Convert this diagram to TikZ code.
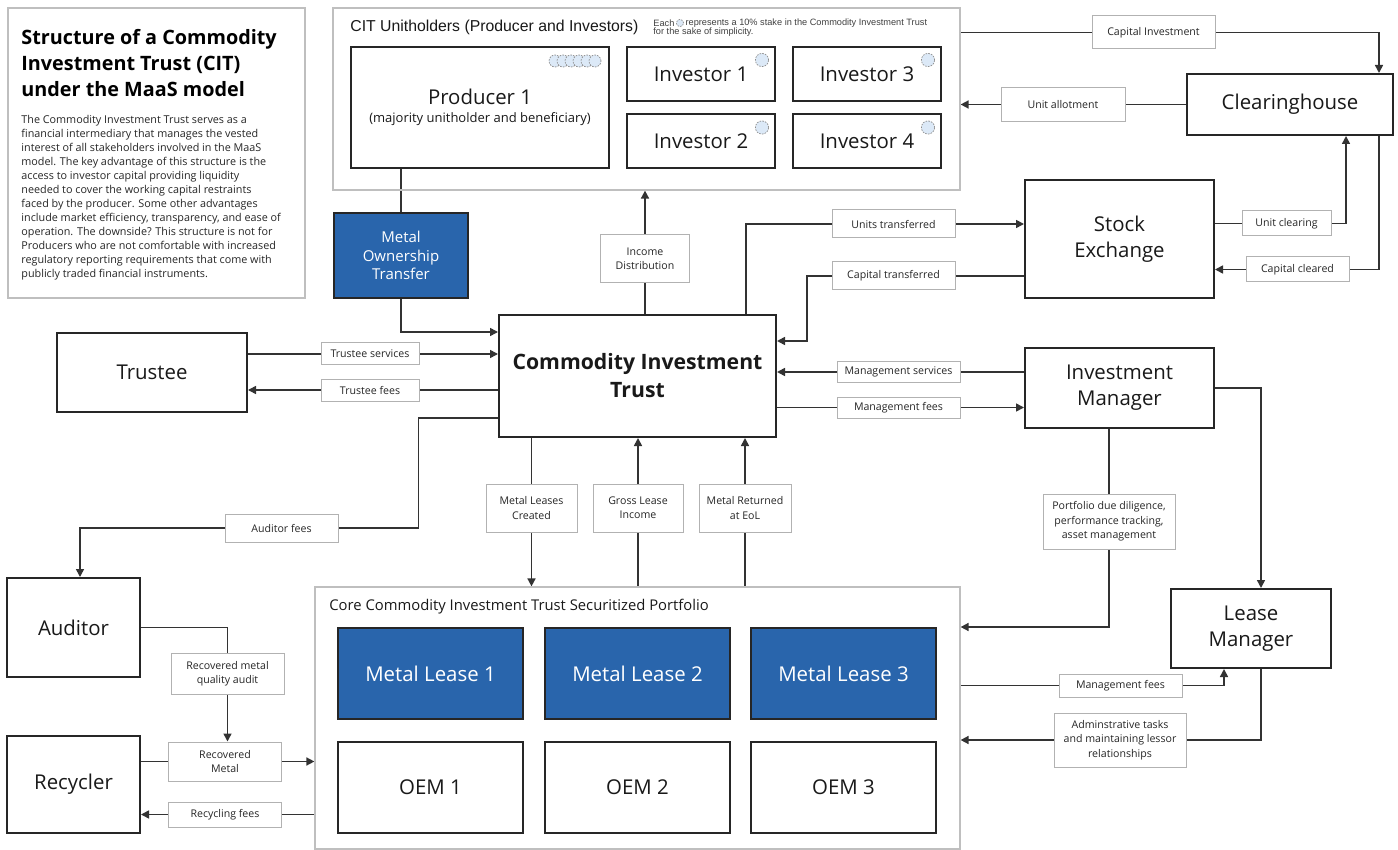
\documentclass[tikz,border=0pt]{standalone}
\usepackage{fontspec}
\setmainfont{Open Sans}
\newfontfamily\arialfont{Liberation Sans}
\usetikzlibrary{arrows.meta,backgrounds}

\definecolor{mblue}{RGB}{41,101,172}
\definecolor{stakeblue}{RGB}{220,233,247}

\begin{document}
\begin{tikzpicture}[
  x=0.5pt, y=-0.5pt,
  box/.style={draw=black!85, line width=1pt, fill=white, text=black!90, align=center,
    inner sep=0pt, font=\fontsize{10.2}{13}\selectfont},
  bluebox/.style={box, fill=mblue, text=white},
  panel/.style={draw=black!25, line width=0.6pt, inner sep=0pt},
  lbl/.style={draw=black!30, line width=0.5pt, fill=white, text=black!85, align=center,
    inner sep=0pt, font=\fontsize{5.3}{7.2}\selectfont},
  note/.style={inner sep=0pt, text=black!75, font=\arialfont\fontsize{4.6}{5}\selectfont},
  arr/.style={draw=black!80, line width=0.8pt, -{Triangle[length=4pt,width=4pt]}},
  link/.style={draw=black!80, line width=0.8pt},
  stake/.style={draw=black!45, dash pattern=on 0.8pt off 0.6pt, line width=0.35pt, fill=stakeblue}
]
  \useasboundingbox (0,0) rectangle (1398,850);

  % Panels
  \node[panel, minimum width=148.5pt, minimum height=145pt] (titlebox) at (156.5,153) {};
  \node[panel, minimum width=313.5pt, minimum height=91pt] (unitholders) at (646.5,99) {};
  \node[panel, minimum width=322.5pt, minimum height=131pt] (core) at (637.5,718) {};

  % Title and description
  \node[anchor=north west, align=left, inner sep=0pt, text=black,
    font=\fontsize{9.9}{13}\selectfont\bfseries] (ttl) at (21,29)
    {Structure of a Commodity\\Investment Trust (CIT)\\under the MaaS model};
  \node[anchor=north west, align=left, inner sep=0pt, text=black!85,
    font=\fontsize{5.4}{7}\selectfont] (ttltxt) at (21,115)
    {The Commodity Investment Trust serves as a\\
     financial intermediary that manages the vested\\
     interest of all stakeholders involved in the MaaS\\
     model. The key advantage of this structure is the\\
     access to investor capital providing liquidity\\
     needed to cover the working capital restraints\\
     faced by the producer. Some other advantages\\
     include market efficiency, transparency, and ease of\\
     operation. The downside? This structure is not for\\
     Producers who are not comfortable with increased\\
     regulatory reporting requirements that come with\\
     publicly traded financial instruments.};

  % Unitholders
  \node[anchor=west, inner sep=0pt, text=black!90, font=\arialfont\fontsize{7.9}{9}\selectfont]
    (uhhead) at (350,27) {CIT Unitholders (Producer and Investors)};
  \node[note, anchor=west] (note1) at (653,23) {Each};
  \draw[stake] ([xshift=2.6pt]note1.east) circle (1.8pt);
  \node[note, anchor=west] (note2) at ([xshift=5.2pt]note1.east)
    {represents a 10\% stake in the Commodity Investment Trust};
  \node[note, anchor=west] (note3) at (653,32) {for the sake of simplicity.};

  \node[box, minimum width=129pt, minimum height=60.5pt] (producer) at (480,107.5)
    {Producer 1\\[-4pt]\fontsize{6.5}{8}\selectfont(majority unitholder and beneficiary)};
  \node[box, minimum width=74pt, minimum height=27pt] (inv1) at (701,74) {Investor 1};
  \node[box, minimum width=74pt, minimum height=27pt] (inv2) at (701,141.5) {Investor 2};
  \node[box, minimum width=74pt, minimum height=27pt] (inv3) at (867,74) {Investor 3};
  \node[box, minimum width=74pt, minimum height=27pt] (inv4) at (867,141.5) {Investor 4};
  \foreach \i in {0,...,5}
    \draw[stake] ([shift={(-27.5pt+\i*4pt,-7.5pt)}]producer.north east) circle (3pt);
  \foreach \n in {inv1,inv2,inv3,inv4}
    \draw[stake] ([shift={(-7pt,-7pt)}]\n.north east) circle (3.3pt);

  % Main boxes
  \node[bluebox, minimum width=67pt, minimum height=42.5pt, font=\fontsize{7.5}{9.2}\selectfont]
    (mot) at (401,255.5) {Metal\\Ownership\\Transfer};
  \node[box, minimum width=138.5pt, minimum height=61pt, font=\fontsize{10.6}{14}\selectfont\bfseries]
    (trust) at (637.5,376) {Commodity Investment\\Trust};
  \node[box, minimum width=95pt, minimum height=39.5pt] (trustee) at (152,372.5) {Trustee};
  \node[box, minimum width=66.5pt, minimum height=49.5pt] (auditor) at (73.5,627.5) {Auditor};
  \node[box, minimum width=66.5pt, minimum height=48.5pt] (recycler) at (73.5,784.5) {Recycler};
  \node[box, minimum width=103pt, minimum height=30.5pt] (clearing) at (1290,104.5) {Clearinghouse};
  \node[box, minimum width=94.5pt, minimum height=59pt] (exchange) at (1119.5,239) {Stock\\Exchange};
  \node[box, minimum width=94.5pt, minimum height=40pt] (invmgr) at (1119.5,388) {Investment\\Manager};
  \node[box, minimum width=80pt, minimum height=39.5pt] (leasemgr) at (1251,628.5) {Lease\\Manager};

  % Portfolio
  \node[anchor=west, inner sep=0pt, text=black!90, font=\fontsize{7.4}{9}\selectfont]
    (corehead) at (329,607) {Core Commodity Investment Trust Securitized Portfolio};
  \node[bluebox, minimum width=92.5pt, minimum height=45.5pt] (ml1) at (430.5,673.5) {Metal Lease 1};
  \node[bluebox, minimum width=92.5pt, minimum height=45.5pt] (ml2) at (637.5,673.5) {Metal Lease 2};
  \node[bluebox, minimum width=92.5pt, minimum height=45.5pt] (ml3) at (843.5,673.5) {Metal Lease 3};
  \node[box, minimum width=92.5pt, minimum height=45.5pt] (oem1) at (430.5,787.5) {OEM 1};
  \node[box, minimum width=92.5pt, minimum height=45.5pt] (oem2) at (637.5,787.5) {OEM 2};
  \node[box, minimum width=92.5pt, minimum height=45.5pt] (oem3) at (843.5,787.5) {OEM 3};

  % Flow labels
  \node[lbl, minimum width=61.5pt, minimum height=16.5pt] (capinv) at (1153.5,32.5) {Capital Investment};
  \node[lbl, minimum width=62pt, minimum height=17pt] (unitall) at (1063,104.5) {Unit allotment};
  \node[lbl, minimum width=61.5pt, minimum height=14pt] (unitstr) at (893.5,224) {Units transferred};
  \node[lbl, minimum width=61.5pt, minimum height=14pt] (captr) at (893.5,276) {Capital transferred};
  \node[lbl, minimum width=44.5pt, minimum height=12.5pt] (unitclr) at (1286.5,223.5) {Unit clearing};
  \node[lbl, minimum width=51.5pt, minimum height=12.5pt] (capclr) at (1297.5,269.5) {Capital cleared};
  \node[lbl, minimum width=44.5pt, minimum height=24pt] (incdist) at (645,259) {Income\\Distribution};
  \node[lbl, minimum width=49pt, minimum height=11pt] (trsvc) at (370,354) {Trustee services};
  \node[lbl, minimum width=49pt, minimum height=11pt] (trfee) at (370,390) {Trustee fees};
  \node[lbl, minimum width=56.5pt, minimum height=14pt] (audfee) at (281.5,528) {Auditor fees};
  \node[lbl, minimum width=61.5pt, minimum height=10.5pt] (mgsvc) at (898.5,372) {Management services};
  \node[lbl, minimum width=61.5pt, minimum height=10.5pt] (mgfee) at (898.5,407.5) {Management fees};
  \node[lbl, minimum width=45.5pt, minimum height=24pt] (mlcreated) at (531.5,508) {Metal Leases\\Created};
  \node[lbl, minimum width=45pt, minimum height=24pt] (grossinc) at (638,508) {Gross Lease\\Income};
  \node[lbl, minimum width=46pt, minimum height=24pt] (metret) at (745,508) {Metal Returned\\at EoL};
  \node[lbl, minimum width=66pt, minimum height=27.5pt] (pdd) at (1109,521.5)
    {Portfolio due diligence,\\performance tracking,\\asset management};
  \node[lbl, minimum width=61.5pt, minimum height=11.5pt] (lmfee) at (1120.5,685.5) {Management fees};
  \node[lbl, minimum width=66pt, minimum height=27pt] (admin) at (1120,740)
    {Adminstrative tasks\\and maintaining lessor\\relationships};
  \node[lbl, minimum width=56.5pt, minimum height=20.5pt] (rmqa) at (227.5,673.5) {Recovered metal\\quality audit};
  \node[lbl, minimum width=56.5pt, minimum height=19.5pt] (recmet) at (225,761.5) {Recovered\\Metal};
  \node[lbl, minimum width=56.5pt, minimum height=12.5pt] (recfee) at (225,814.5) {Recycling fees};

  \begin{pgfonlayer}{background}
    \fill[white] (0,0) rectangle (1398,850);
    % Unitholders, exchange and clearing
    \draw[arr] (unitholders.east |- capinv) -| ([xshift=-7.5pt]clearing.north east);
    \draw[arr] (clearing.west) -- (unitholders.east |- clearing.west);
    \draw[arr] ([xshift=-15.5pt]trust.north east) |- (exchange.west |- unitstr);
    \draw[arr] (exchange.west |- captr) -| ([xshift=15pt,yshift=17.5pt]trust.east)
      -- ([yshift=17.5pt]trust.east);
    \draw[arr] (exchange.east |- unitclr) -| ([xshift=28pt]clearing.south);
    \draw[arr] ([xshift=-7.5pt]clearing.south east) |- (exchange.east |- capclr);
    \draw[arr] (trust.north -| incdist) -- (unitholders.south -| incdist);
    \draw[link] (mot.north |- producer.south) -- (mot.north);
    \draw[arr] (mot.south) |- ([yshift=22pt]trust.west);
    % Trustee and auditor
    \draw[arr] (trustee.east |- trsvc) -- (trust.west |- trsvc);
    \draw[arr] (trust.west |- trfee) -- (trustee.east |- trfee);
    \draw[arr] ([yshift=-21pt]trust.west) -| ([xshift=40pt]audfee.east)
      -| ([xshift=3.25pt]auditor.north);
    % Managers
    \draw[arr] (invmgr.west |- mgsvc) -- (trust.east |- mgsvc);
    \draw[arr] (trust.east |- mgfee) -- (invmgr.west |- mgfee);
    \draw[arr] (invmgr.east) -| ([xshift=5pt]leasemgr.north);
    \draw[arr] (invmgr.south -| pdd) |- (core.east |- ml3.north);
    \draw[arr] (core.east |- lmfee) -| ([xshift=-13.5pt]leasemgr.south);
    \draw[arr] ([xshift=5pt]leasemgr.south) |- (core.east |- admin);
    % Trust and portfolio
    \draw[arr] (trust.south -| mlcreated) -- (core.north -| mlcreated);
    \draw[arr] (core.north -| grossinc) -- (trust.south -| grossinc);
    \draw[arr] (core.north -| metret) -- (trust.south -| metret);
    % Recycling
    \draw[arr] (auditor.east) -| (recmet.north -| rmqa);
    \draw[arr] (recycler.east |- recmet) -- (core.west |- recmet);
    \draw[arr] (core.west |- recfee) -- (recycler.east |- recfee);
  \end{pgfonlayer}
\end{tikzpicture}
\end{document}
